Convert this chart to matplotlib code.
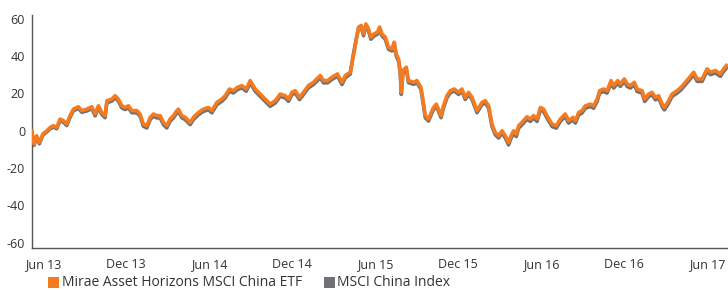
import matplotlib
matplotlib.use("Agg")
import matplotlib.pyplot as plt
from matplotlib.patches import Rectangle

# x: months since Jun 2013
months = [-0.82, -0.65, -0.46, -0.27, -0.02, 0.27, 0.51, 0.74, 0.99, 1.23, 1.47, 1.71, 1.95, 2.19, 2.55, 2.80,
          3.16, 3.52, 3.76, 4.00, 4.24, 4.48, 4.61, 4.97, 5.21, 5.44, 5.69, 5.93, 6.17, 6.41, 6.78, 7.01,
          7.25, 7.50, 7.74, 7.98, 8.22, 8.46, 8.70, 8.94, 9.18, 9.42, 9.67, 9.78, 10.03, 10.27, 10.63, 10.87,
          11.23, 11.59, 11.95, 12.20, 12.56, 12.92, 13.16, 13.47, 13.76, 14.05, 14.37, 14.68, 14.97, 15.33,
          15.69, 16.05, 16.41, 16.78, 17.14, 17.50, 17.74, 17.98, 18.22, 18.53, 18.82, 19.18, 19.54, 19.79,
          20.03, 20.27, 20.56, 20.87, 21.28, 21.60, 21.84, 22.20, 22.39, 22.63, 22.80, 22.99, 23.16, 23.33,
          23.52, 23.69, 23.93, 24.17, 24.32, 24.49, 24.73, 24.97, 25.21, 25.38, 25.52, 25.69, 25.81, 25.89,
          26.01, 26.25, 26.41, 26.78, 27.02, 27.31, 27.50, 27.62, 27.86, 28.11, 28.22, 28.42, 28.58, 28.76,
          28.94, 29.19, 29.43, 29.72, 30.03, 30.27, 30.51, 30.75, 31.00, 31.36, 31.72, 31.96, 32.20, 32.44,
          32.68, 32.92, 33.17, 33.41, 33.64, 33.82, 34.01, 34.20, 34.37, 34.61, 34.97, 35.21, 35.45, 35.70,
          35.94, 36.17, 36.42, 36.78, 37.09, 37.38, 37.74, 37.98, 38.30, 38.47, 38.71, 38.95, 39.19, 39.55,
          39.79, 40.04, 40.22, 40.51, 40.76, 41.05, 41.24, 41.53, 41.72, 42.01, 42.21, 42.44, 42.73, 42.93,
          43.29, 43.48, 43.77, 44.01, 44.25, 44.49, 44.74, 44.90, 45.14, 45.46, 45.82, 46.11, 46.42, 46.73,
          47.02, 47.27, 47.63, 47.99, 48.23, 48.59, 48.95, 49.19, 49.39]

etf = [0.0, -7.2, -2.7, -6.3, -1.8, 0.0, 1.8, 2.7, 1.8, 6.3, 5.4, 3.6, 8.1, 11.6, 12.9, 10.8,
       11.6, 12.9, 9.0, 13.4, 9.8, 8.1, 16.1, 17.0, 18.8, 17.0, 13.4, 12.5, 13.4, 10.8, 10.8, 9.0,
       3.6, 2.7, 7.2, 9.0, 8.1, 8.1, 4.5, 2.7, 6.3, 8.1, 10.8, 11.6, 8.1, 7.2, 4.5, 7.2,
       9.8, 11.6, 12.5, 10.8, 15.2, 17.0, 18.8, 22.4, 21.5, 23.3, 24.2, 22.4, 26.9, 22.4,
       19.7, 17.0, 14.3, 16.1, 19.7, 18.8, 17.0, 20.6, 21.5, 17.9, 20.6, 24.2, 26.0, 27.8,
       29.6, 26.9, 26.9, 28.7, 30.5, 26.0, 29.6, 31.4, 38.5, 48.4, 55.6, 56.5, 52.0, 57.3,
       54.7, 50.2, 52.0, 52.9, 55.6, 52.0, 50.2, 44.8, 43.9, 47.5, 41.3, 38.5, 32.3, 20.6,
       32.3, 34.1, 26.9, 26.0, 26.9, 23.3, 14.3, 8.1, 6.3, 10.8, 12.5, 14.3, 11.6, 8.1,
       13.4, 18.8, 21.5, 22.4, 20.6, 22.4, 17.9, 20.6, 17.9, 10.8, 15.2, 16.1, 13.4, 3.6,
       -0.9, -2.7, 0.0, -2.7, -6.3, -2.7, 0.0, -1.8, 2.7, 4.5, 7.5, 6.3, 8.1, 6.3,
       12.5, 11.6, 8.1, 3.6, 2.7, 6.3, 9.0, 5.4, 7.2, 5.4, 9.8, 10.8, 13.4, 14.3,
       13.4, 17.0, 21.5, 22.4, 21.5, 26.9, 24.2, 26.9, 25.1, 27.8, 25.1, 24.2, 26.0, 22.4,
       21.5, 17.0, 19.7, 20.6, 17.9, 18.8, 14.3, 12.5, 15.2, 19.7, 21.5, 23.3, 26.0, 28.7,
       31.4, 27.8, 27.8, 33.2, 31.4, 32.3, 30.5, 33.2, 35.0]

index = [-0.3, -7.8, -3.2, -7.0, -2.4, -0.6, 1.1, 2.0, 1.1, 5.5, 4.6, 2.8, 7.2, 10.7, 12.0, 9.9,
         10.6, 11.9, 8.0, 12.4, 8.8, 7.0, 15.0, 15.9, 17.7, 15.9, 12.3, 11.4, 12.3, 9.7, 9.6, 7.8,
         2.4, 1.5, 6.0, 7.8, 6.9, 6.9, 3.3, 1.5, 5.1, 6.9, 9.6, 10.4, 6.9, 6.0, 3.3, 6.0,
         8.6, 10.4, 11.3, 9.6, 14.0, 15.8, 17.6, 21.2, 20.3, 22.1, 23.0, 21.2, 25.7, 21.2,
         18.5, 15.8, 13.1, 14.9, 18.5, 17.6, 15.8, 19.4, 20.3, 16.7, 19.4, 23.0, 24.8, 26.6,
         28.4, 25.7, 25.7, 27.5, 29.3, 24.8, 28.4, 30.4, 39.5, 49.2, 55.0, 55.5, 51.0, 56.2,
         53.6, 49.1, 50.9, 51.8, 54.5, 50.9, 49.1, 43.7, 42.8, 46.4, 40.2, 37.4, 31.2, 19.5,
         31.2, 33.0, 25.8, 24.9, 25.8, 22.2, 13.2, 7.0, 5.2, 9.7, 11.4, 13.2, 10.5, 7.0,
         12.3, 17.7, 20.4, 21.3, 19.5, 21.3, 16.8, 19.5, 16.8, 9.7, 14.0, 14.9, 12.2, 2.4,
         -2.1, -3.9, -1.2, -3.9, -7.6, -4.0, -1.3, -3.1, 1.4, 3.2, 6.2, 5.0, 6.8, 5.0,
         11.2, 10.3, 6.8, 2.3, 1.4, 5.0, 7.7, 4.1, 5.9, 4.1, 8.5, 9.5, 12.1, 13.0,
         12.1, 15.7, 20.2, 21.1, 20.2, 25.6, 22.9, 25.6, 23.8, 26.5, 23.8, 22.9, 24.7, 21.1,
         20.2, 15.7, 18.4, 19.3, 16.6, 17.5, 13.0, 11.2, 13.9, 18.4, 20.2, 22.0, 24.7, 27.4,
         30.1, 26.5, 26.5, 31.9, 30.1, 31.0, 29.2, 31.9, 33.7]

tick_pos = [0, 6, 12, 18, 24, 30, 36, 42, 48]
tick_labels = ["Jun 13", "Dec 13", "Jun 14", "Dec 14", "Jun 15", "Dec 15", "Jun 16", "Dec 16", "Jun 17"]
yticks = [-60, -40, -20, 0, 20, 40, 60]
legend_labels = ["Mirae Asset Horizons MSCI China ETF", "MSCI China Index"]

ORANGE = "#F47B20"
GRAY = "#707175"
TXT = "#333333"

plt.rcParams['font.family'] = ['Open Sans', 'DejaVu Sans']

fig = plt.figure(figsize=(7.28, 2.90), dpi=100)
ax = fig.add_axes([32/728, 1 - 248/290, 1 - 32/728, (248 - 15)/290])

ax.plot(months, index, color=GRAY, lw=2.6, solid_joinstyle='round', zorder=2)
ax.plot(months, etf, color=ORANGE, lw=2.6, solid_joinstyle='round', zorder=3)

ax.set_xlim(-0.8, 49.5)
ax.set_ylim(-62.9, 62.1)
ax.set_xticks(tick_pos)
ax.set_xticklabels(tick_labels)
ax.set_yticks(yticks)
ax.set_yticklabels([str(v) for v in yticks])
ax.tick_params(axis='both', length=0, labelsize=9, colors=TXT)
ax.tick_params(axis='x', pad=7)
ax.tick_params(axis='y', pad=5)
for s in ['top', 'right']:
    ax.spines[s].set_visible(False)
for s in ['left', 'bottom']:
    ax.spines[s].set_color('#555555')
    ax.spines[s].set_linewidth(1.0)

# legend (raised slightly so it is not clipped)
fig.patches.append(Rectangle((48/728, 1 - 288/290), 11/728, 11/290, transform=fig.transFigure,
                             facecolor=ORANGE, edgecolor='none'))
fig.text(62/728, 1 - 286/290, legend_labels[0], fontsize=10, color=TXT, va='baseline', ha='left')
fig.patches.append(Rectangle((324/728, 1 - 288/290), 11/728, 11/290, transform=fig.transFigure,
                             facecolor=GRAY, edgecolor='none'))
fig.text(337/728, 1 - 286/290, legend_labels[1], fontsize=10, color=TXT, va='baseline', ha='left')

fig.savefig("out.png", dpi=100)
